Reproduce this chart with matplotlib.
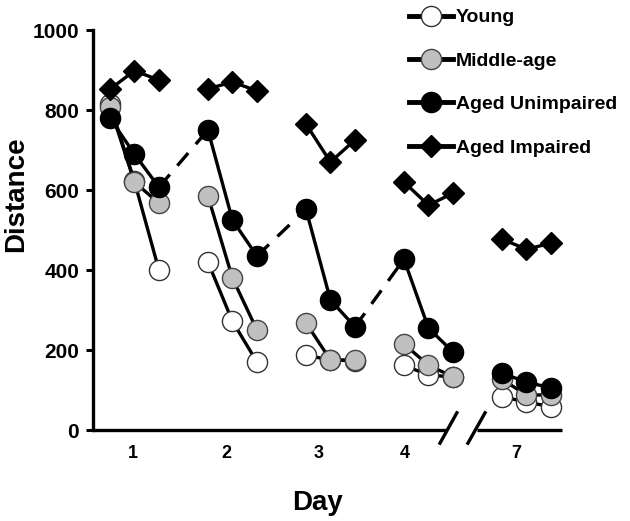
import matplotlib
matplotlib.use("Agg")
import matplotlib.pyplot as plt
from matplotlib.lines import Line2D

plt.rcParams['font.family'] = ['Liberation Sans', 'DejaVu Sans']

# ==============================
# DATA (3 trials per day)
# ==============================
days = [1, 2, 3, 4, 7]
day_labels = ["1", "2", "3", "4", "7"]
trials_per_day = 3

young = [815, 622, 400, 420, 272, 170, 187, 175, 173, 162, 137, 133, 83, 70, 58]
middle_age = [808, 620, 567, 585, 380, 250, 268, 175, 175, 215, 162, 133, 127, 87, 88]
aged_unimpaired = [780, 690, 607, 750, 525, 435, 552, 325, 258, 427, 255, 195, 142, 120, 105]
aged_impaired = [852, 898, 875, 853, 870, 848, 765, 670, 725, 620, 562, 592, 477, 452, 467]

# x positions: each day block is 4 units wide, trials at 0, 1, 2 inside it
xpos = [4 * d + t for d in range(len(days)) for t in range(trials_per_day)]
tick_pos = [0.95, 4.75, 8.5, 12.05, 16.6]

# ==============================
# FIGURE
# ==============================
fig = plt.figure(figsize=(6.3, 5.21), dpi=100)
ax = fig.add_axes([93 / 630, 1 - 430 / 521, 469 / 630, 400 / 521])

LW = 2.4
MS = 14.5

styles = [
    ("Young", young, dict(marker="o", mfc="white", mec="#333333", mew=1.0)),
    ("Middle-age", middle_age, dict(marker="o", mfc="#c0c0c0", mec="#444444", mew=1.0)),
    ("Aged Unimpaired", aged_unimpaired, dict(marker="o", mfc="black", mec="black", mew=1.0)),
    ("Aged Impaired", aged_impaired, dict(marker="D", mfc="black", mec="black", mew=1.0)),
]

z = 2
for name, vals, st in styles:
    size = MS * 0.8 if st["marker"] == "D" else MS
    for d in range(len(days)):
        i0 = d * trials_per_day
        xs = xpos[i0:i0 + trials_per_day]
        ys = vals[i0:i0 + trials_per_day]
        ax.plot(xs, ys, color="black", lw=LW, ms=size, zorder=z, **st)
    if name == "Aged Unimpaired":
        # dashed links between consecutive days (1-2, 2-3, 3-4)
        for d in range(3):
            i = d * trials_per_day + trials_per_day - 1
            ax.plot([xpos[i], xpos[i + 1]], [vals[i], vals[i + 1]],
                    color="black", lw=LW, ls=(0, (5, 3.5)), zorder=z - 0.5)
    z += 1

# ==============================
# AXES
# ==============================
ax.set_xlim(-0.69, 18.45)
ax.set_ylim(0, 1000)
ax.set_yticks([0, 200, 400, 600, 800, 1000])
ax.set_xticks(tick_pos)
ax.set_xticklabels(day_labels)

for s in ["top", "right", "bottom"]:
    ax.spines[s].set_visible(False)
ax.spines["left"].set_linewidth(2.4)

ax.tick_params(axis="y", length=5, width=2.2, labelsize=15, pad=5)
ax.tick_params(axis="x", length=0, labelsize=13, pad=11)
for lab in ax.get_xticklabels() + ax.get_yticklabels():
    lab.set_fontweight("bold")

# broken x axis
trans = ax.get_xaxis_transform()
ax.plot([-0.69, 13.76], [0, 0], color="black", lw=2.4, transform=trans, clip_on=False,
        solid_capstyle="butt")
ax.plot([14.98, 18.45], [0, 0], color="black", lw=2.4, transform=trans, clip_on=False,
        solid_capstyle="butt")
ax.plot([13.47, 14.16], [-0.033, 0.043], color="black", lw=2.4, transform=trans, clip_on=False)
ax.plot([14.61, 15.31], [-0.033, 0.043], color="black", lw=2.4, transform=trans, clip_on=False)

ax.set_ylabel("Distance", fontsize=20, fontweight="bold")
ax.set_xlabel("Day", fontsize=20, fontweight="bold")
ax.yaxis.set_label_coords(-0.137, 0.59)
ax.xaxis.set_label_coords(0.478, -0.15)

# ==============================
# LEGEND
# ==============================
handles = []
for name, vals, st in styles:
    size = MS * 0.8 if st["marker"] == "D" else MS
    handles.append(Line2D([], [], color="black", lw=3.5, ms=size, **st))
leg = ax.legend(handles, [s[0] for s in styles], loc="upper left",
                bbox_to_anchor=(298 / 469, 1.097), frameon=False,
                handlelength=2.3, handletextpad=0.15, labelspacing=1.33,
                prop=dict(size=14, weight="bold"))

fig.savefig("out.png", dpi=100)
